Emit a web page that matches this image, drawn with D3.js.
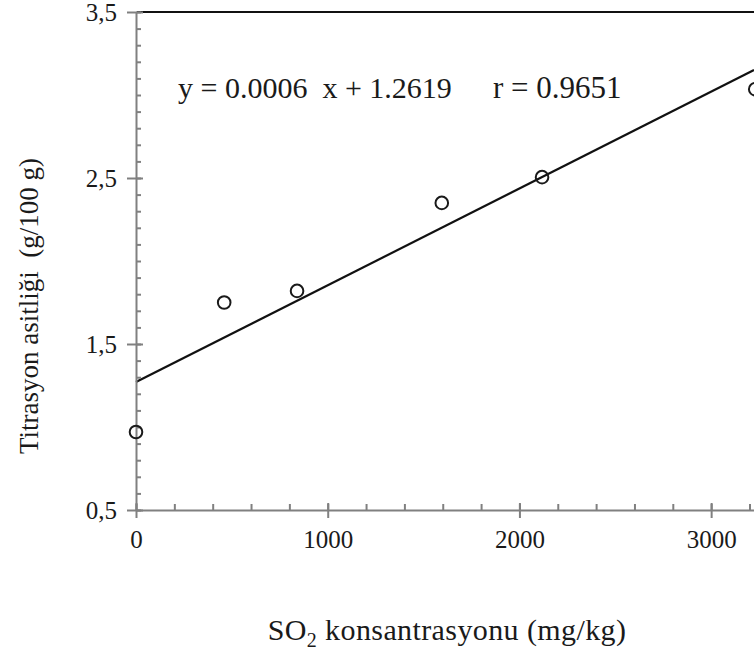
<!DOCTYPE html>
<html lang="tr">
	<head>
		<meta charset="utf-8">
		<title>SO2 - titrasyon asitliği</title>
		<script type="text/javascript" src="https://cdn.jsdelivr.net/npm/d3@7/dist/d3.min.js"></script>
		<style>
			body{
				margin:0;
				background-color:white;
			}
			svg text{
				font-family:"Liberation Serif","Times New Roman",serif;
				fill:#1a1a1a;
			}
			.axis path, .axis line{
				stroke:#808080;
				stroke-width:2;
			}
		</style>
	</head>

	<body>
		<div id="chart"></div>

		<script type="text/javascript">

			// values
			var so2 = [0, 460, 840, 1595, 2118, 3230]
			var acidity = [0.97, 1.75, 1.82, 2.35, 2.505, 3.035]

			var yMajor = [0.5, 1.5, 2.5, 3.5]
			var yLabels = ["0,5", "1,5", "2,5", "3,5"]
			var xMajor = [0, 1000, 2000, 3000]
			var xLabels = ["0", "1000", "2000", "3000"]

			var eqText = "y = 0.0006  x + 1.2619"
			var rText = "r = 0.9651"

			var w = 754
			var h = 653

			var xScale = d3.scaleLinear()
			.domain([0,3500])
			.range([136,807])

			var yScale = d3.scaleLinear()
			.domain([0.5,3.5])
			.range([510,12])

			var svg = d3.select("#chart").append("svg")
			.attr("width",w)
			.attr("height",h)

			// top border of the plot
			svg.append("line")
			.attr("x1",xScale(0)+1)
			.attr("x2",w)
			.attr("y1",yScale(3.5))
			.attr("y2",yScale(3.5))
			.attr("stroke","#111")
			.attr("stroke-width",2)

			// least squares fit drawn from the points
			var n = so2.length
			var mx = d3.mean(so2)
			var my = d3.mean(acidity)
			var sxy = 0, sxx = 0
			for(var i=0;i<n;i++){
				sxy += (so2[i]-mx)*(acidity[i]-my)
				sxx += (so2[i]-mx)*(so2[i]-mx)
			}
			var slope = sxy/sxx
			var icept = my - slope*mx

			var xEnd = xScale.invert(w)
			svg.append("line")
			.attr("x1",xScale(0))
			.attr("y1",yScale(icept))
			.attr("x2",xScale(xEnd))
			.attr("y2",yScale(icept+slope*xEnd))
			.attr("stroke","#111")
			.attr("stroke-width",2.2)

			// minor ticks (inside)
			var yMinor = d3.range(5,36).map(function(d){return d/10})
			svg.append("g")
			.attr("class","axis")
			.attr("transform","translate("+xScale(0)+",0)")
			.call(d3.axisRight(yScale).tickValues(yMinor).tickSize(5).tickFormat(""))
			.select(".domain").remove()

			var xMinor = d3.range(0,3600,200)
			svg.append("g")
			.attr("class","axis")
			.attr("transform","translate(0,"+yScale(0.5)+")")
			.call(d3.axisTop(xScale).tickValues(xMinor).tickSize(6).tickFormat(""))
			.select(".domain").remove()

			// major ticks cross the axis
			svg.append("g")
			.attr("class","axis")
			.attr("transform","translate("+xScale(0)+",0)")
			.call(d3.axisRight(yScale).tickValues(yMajor).tickSize(7).tickFormat(""))
			.select(".domain").remove()

			svg.append("g")
			.attr("class","axis")
			.attr("transform","translate(0,"+yScale(0.5)+")")
			.call(d3.axisTop(xScale).tickValues(xMajor).tickSize(7).tickFormat(""))
			.select(".domain").remove()

			var yAxis = d3.axisLeft(yScale)
			.tickValues(yMajor)
			.tickSize(9)
			.tickSizeOuter(0)
			.tickPadding(10)
			.tickFormat(function(d,i){return yLabels[i]})

			var gy = svg.append("g")
			.attr("class","axis")
			.attr("transform","translate("+xScale(0)+",0)")
			.call(yAxis)
			gy.selectAll("text").style("font-size","25px")

			var xAxis = d3.axisBottom(xScale)
			.tickValues(xMajor)
			.tickSize(8)
			.tickSizeOuter(0)
			.tickPadding(12)
			.tickFormat(function(d,i){return xLabels[i]})

			var gx = svg.append("g")
			.attr("class","axis")
			.attr("transform","translate(0,"+yScale(0.5)+")")
			.call(xAxis)
			gx.selectAll("text").style("font-size","25px")

			// points
			svg.selectAll("circle")
			.data(so2)
			.enter()
			.append("circle")
			.attr("cx",function(d){return xScale(d)})
			.attr("cy",function(d,i){return yScale(acidity[i])})
			.attr("r",6.3)
			.attr("fill","none")
			.attr("stroke","#1a1a1a")
			.attr("stroke-width",2)

			// equation
			svg.append("text")
			.attr("x",178)
			.attr("y",98)
			.style("font-size","30px")
			.style("white-space","pre")
			.text(eqText)

			svg.append("text")
			.attr("x",493)
			.attr("y",98)
			.style("font-size","31px")
			.text(rText)

			// axis titles
			var xt = svg.append("text")
			.attr("x",447)
			.attr("y",640)
			.attr("text-anchor","middle")
			.style("font-size","30px")
			.style("letter-spacing","0.4px")
			xt.append("tspan").text("SO")
			xt.append("tspan").attr("dy",7).style("font-size","20px").text("2")
			xt.append("tspan").attr("dy",-7).text(" konsantrasyonu (mg/kg)")

			svg.append("text")
			.attr("transform","translate(38,306) rotate(-90)")
			.attr("text-anchor","middle")
			.style("font-size","27px")
			.style("white-space","pre")
			.text("Titrasyon asitliği  (g/100 g)")

		</script>
	</body>
</html>
